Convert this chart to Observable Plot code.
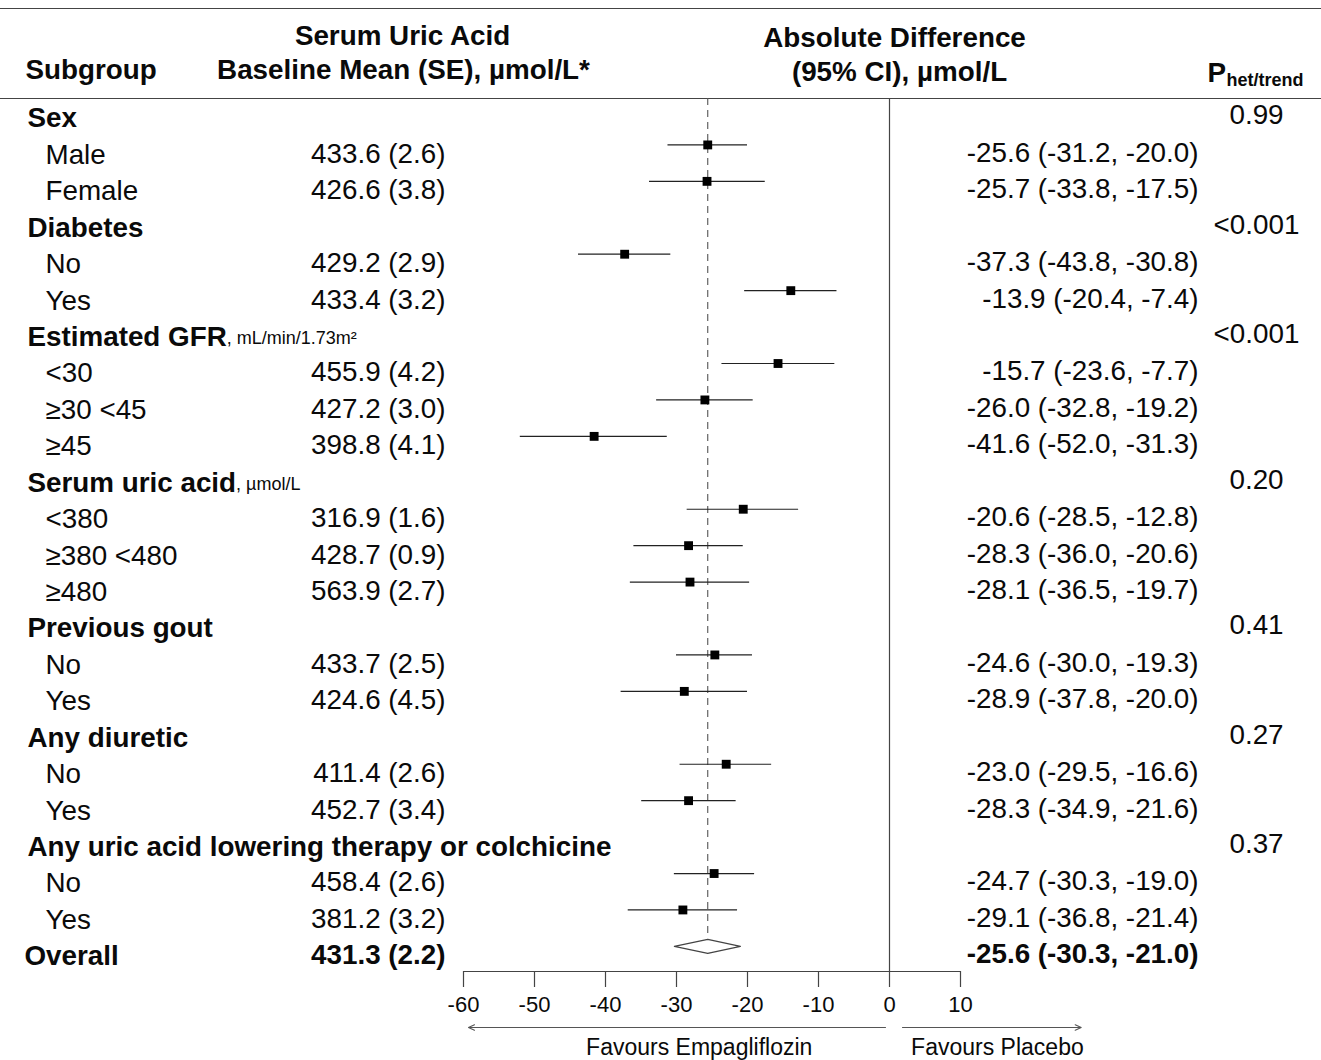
<!DOCTYPE html>
<html><head><meta charset="utf-8">
<script src="https://cdn.jsdelivr.net/npm/d3@7"></script>
<script src="https://cdn.jsdelivr.net/npm/@observablehq/plot@0.6"></script>
<style>body{margin:0;background:#fff} svg{display:block}</style>
</head><body><div id="chart"></div>
<script>
// ---------- DATA ----------
const rowLabels = ["Sex","Male","Female","Diabetes","No","Yes","Estimated GFR","<30","≥30 <45","≥45",
  "Serum uric acid","<380","≥380 <480","≥480","Previous gout","No","Yes","Any diuretic","No","Yes",
  "Any uric acid lowering therapy or colchicine","No","Yes","Overall"];
const rowTypes = ["header","sub","sub","header","sub","sub","header","sub","sub","sub",
  "header","sub","sub","sub","header","sub","sub","header","sub","sub","header","sub","sub","overall"];
const rowUnits = [null,null,null,null,null,null,", mL/min/1.73m²",null,null,null,
  ", µmol/L",null,null,null,null,null,null,null,null,null,null,null,null,null];
const baselineMean = [null,433.6,426.6,null,429.2,433.4,null,455.9,427.2,398.8,null,316.9,428.7,563.9,
  null,433.7,424.6,null,411.4,452.7,null,458.4,381.2,431.3];
const baselineSE = [null,2.6,3.8,null,2.9,3.2,null,4.2,3.0,4.1,null,1.6,0.9,2.7,
  null,2.5,4.5,null,2.6,3.4,null,2.6,3.2,2.2];
const diffEst = [null,-25.6,-25.7,null,-37.3,-13.9,null,-15.7,-26.0,-41.6,null,-20.6,-28.3,-28.1,
  null,-24.6,-28.9,null,-23.0,-28.3,null,-24.7,-29.1,-25.6];
const diffLo = [null,-31.2,-33.8,null,-43.8,-20.4,null,-23.6,-32.8,-52.0,null,-28.5,-36.0,-36.5,
  null,-30.0,-37.8,null,-29.5,-34.9,null,-30.3,-36.8,-30.3];
const diffHi = [null,-20.0,-17.5,null,-30.8,-7.4,null,-7.7,-19.2,-31.3,null,-12.8,-20.6,-19.7,
  null,-19.3,-20.0,null,-16.6,-21.6,null,-19.0,-21.4,-21.0];
const pHet = ["0.99",null,null,"<0.001",null,null,"<0.001",null,null,null,"0.20",null,null,null,
  "0.41",null,null,"0.27",null,null,"0.37",null,null,null];
const axisTicks = [-60,-50,-40,-30,-20,-10,0,10];
const favours = [
  {label:"Favours Empagliflozin", from:0, to:-60, labelAt:-26.8},
  {label:"Favours Placebo", from:0, to:27, labelAt:15.2}
];

// ---------- LAYOUT ----------
const W = 1321, H = 1060, row0 = 118, step = 36.43;
const yOf = px => (px - row0) / step;
const FONT = "'Liberation Sans', Arial, sans-serif";
const FS = 27.8;
const INK = "#0a0a0a";
const LINE = "#444";
const markOffset = -10 / step;

const rows = rowLabels.map((label, i) => ({
  i, label, type: rowTypes[i], unit: rowUnits[i], mean: baselineMean[i], se: baselineSE[i],
  est: diffEst[i], lo: diffLo[i], hi: diffHi[i], p: pHet[i]
}));
const headers = rows.filter(d => d.type === "header");
const subs = rows.filter(d => d.type === "sub");
const overall = rows.find(d => d.type === "overall");
const withUnits = rows.filter(d => d.unit);
const fmt = v => v.toFixed(1);
const baseText = d => `${fmt(d.mean)} (${fmt(d.se)})`;
const ciText = d => `${fmt(d.est)} (${fmt(d.lo)}, ${fmt(d.hi)})`;

const ctx = document.createElement("canvas").getContext("2d");
ctx.font = `bold ${FS}px ${FONT}`;
const headerWidth = s => ctx.measureText(s).width;

const diamondHalf = 7 / step;
const dRow = overall.i + markOffset;
const diamond = [
  {x: overall.lo, y: dRow}, {x: overall.est, y: dRow - diamondHalf},
  {x: overall.hi, y: dRow}, {x: overall.est, y: dRow + diamondHalf}, {x: overall.lo, y: dRow}
];

const axisRow = yOf(971);
const headLineRow = yOf(98);
const hdr = {frameAnchor: "top-left", lineAnchor: "middle", fontSize: FS, fontWeight: "bold", fill: INK};

const plot = Plot.plot({
  width: W, height: H,
  marginTop: 0, marginLeft: 0, marginRight: 0, marginBottom: H - 971,
  style: {fontFamily: FONT, color: INK, background: "#fff", overflow: "visible"},
  x: {domain: [-60, 10], range: [463, 960], label: null},
  y: {domain: [yOf(0), yOf(H)], range: [0, H], axis: null},
  marks: [
    // table rules
    Plot.ruleY([yOf(8)], {stroke: LINE, strokeWidth: 1.2}),
    Plot.ruleY([headLineRow], {stroke: LINE, strokeWidth: 1.2}),
    // column headers
    Plot.text(["Subgroup"], {...hdr, dx: 25, dy: 70, textAnchor: "start"}),
    Plot.text(["Serum Uric Acid"], {...hdr, dx: 402, dy: 36, textAnchor: "middle"}),
    Plot.text(["Baseline Mean (SE), µmol/L*"], {...hdr, dx: 403, dy: 70, textAnchor: "middle"}),
    Plot.text(["Absolute Difference"], {...hdr, dx: 894, dy: 38, textAnchor: "middle"}),
    Plot.text(["(95% CI), µmol/L"], {...hdr, dx: 899, dy: 72, textAnchor: "middle"}),
    Plot.text(["P"], {...hdr, dx: 1207, dy: 73, textAnchor: "start"}),
    Plot.text(["het/trend"], {...hdr, dx: 1226, dy: 80, textAnchor: "start", fontSize: 18}),
    // reference lines
    Plot.ruleX([0], {y1: () => headLineRow, y2: () => axisRow, stroke: LINE, strokeWidth: 1.2}),
    Plot.ruleX([overall.est], {y1: () => headLineRow, y2: () => dRow - diamondHalf - 2 / step, stroke: "#555", strokeWidth: 1.1, strokeDasharray: "7,5"}),
    // left labels
    Plot.text(headers, {y: "i", text: "label", frameAnchor: "left", dx: 27, textAnchor: "start", fontSize: FS, fontWeight: "bold", fill: INK}),
    ...withUnits.map(d => Plot.text([d], {y: "i", text: "unit", frameAnchor: "left", dx: 27 + headerWidth(d.label), dy: 1,
      textAnchor: "start", fontSize: 18, fill: INK})),
    Plot.text(subs, {y: "i", text: "label", frameAnchor: "left", dx: 45, textAnchor: "start", fontSize: FS, fill: INK}),
    Plot.text([overall], {y: "i", text: "label", frameAnchor: "left", dx: 24, textAnchor: "start", fontSize: FS, fontWeight: "bold", fill: INK}),
    // baseline column
    Plot.text(subs, {y: "i", text: baseText, frameAnchor: "left", dx: 445, dy: -1, textAnchor: "end", fontSize: FS, fill: INK}),
    Plot.text([overall], {y: "i", text: baseText, frameAnchor: "left", dx: 445, dy: -1, textAnchor: "end", fontSize: FS, fontWeight: "bold", fill: INK}),
    // CI column
    Plot.text(subs, {y: "i", text: ciText, frameAnchor: "left", dx: 1198, dy: -2, textAnchor: "end", fontSize: FS, fill: INK}),
    Plot.text([overall], {y: "i", text: ciText, frameAnchor: "left", dx: 1198, dy: -2, textAnchor: "end", fontSize: FS, fontWeight: "bold", fill: INK}),
    // p values
    Plot.text(headers, {y: "i", text: "p", frameAnchor: "left", dx: 1256, dy: -3, textAnchor: "middle", fontSize: FS, fill: INK}),
    // estimates
    Plot.ruleY(subs, {y: d => d.i + markOffset, x1: "lo", x2: "hi", stroke: "#222", strokeWidth: 1.2}),
    Plot.dot(subs, {x: "est", y: d => d.i + markOffset, symbol: "square", r: 5, fill: "#000", stroke: "none"}),
    Plot.line(diamond, {x: "x", y: "y", stroke: LINE, strokeWidth: 1.2, fill: "#fff"}),
    // axis
    Plot.ruleY([axisRow], {x1: () => -60, x2: () => 10, stroke: LINE, strokeWidth: 1.2}),
    Plot.axisX({anchor: "bottom", ticks: axisTicks, tickSize: 16, tickPadding: 9, tickFormat: d => String(d),
      fontSize: 22, label: null, stroke: LINE, strokeWidth: 1.2, fill: INK}),
    // favours arrows
    Plot.arrow(favours.slice(0, 1), {x1: "from", x2: "to", y1: () => yOf(1027), y2: () => yOf(1027),
      insetStart: 4, insetEnd: 5, stroke: "#555", strokeWidth: 1.1, headLength: 9, headAngle: 50}),
    Plot.arrow(favours.slice(1), {x1: "from", x2: "to", y1: () => yOf(1027), y2: () => yOf(1027),
      insetStart: 13, stroke: "#555", strokeWidth: 1.1, headLength: 9, headAngle: 50}),
    Plot.text(favours, {x: "labelAt", y: () => yOf(1047), text: "label", fontSize: 23, fill: INK})
  ]
});
document.getElementById("chart").appendChild(plot);
</script>
</body></html>
